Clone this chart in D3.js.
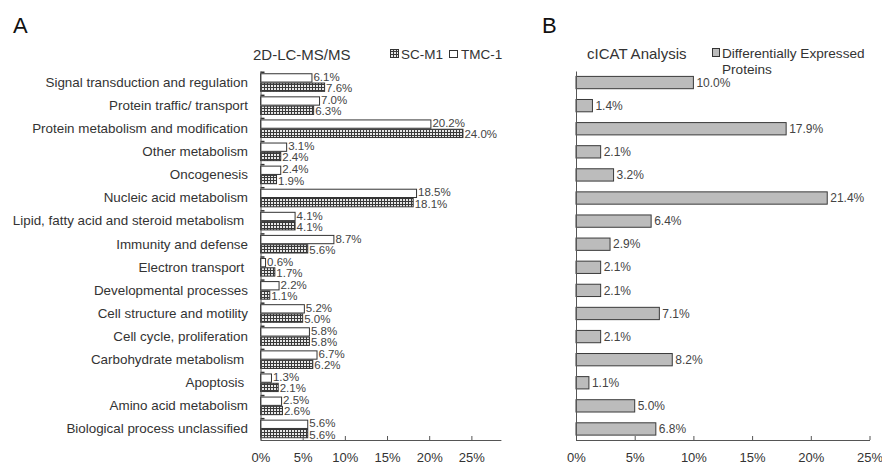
<!DOCTYPE html>
<html>
<head>
<meta charset="utf-8">
<script src="https://cdn.jsdelivr.net/npm/d3@7/dist/d3.min.js"></script>
<style>
  html, body { margin: 0; padding: 0; background: #fff; }
  svg { display: block; font-family: "Liberation Sans", Arial, sans-serif; }
  .cat text { white-space: pre; }
</style>
</head>
<body>
<svg id="chart" width="882" height="465"></svg>
<script>
// Functional categories, top to bottom
const categories = [
  "Signal transduction and regulation",
  "Protein traffic/ transport",
  "Protein metabolism and modification",
  "Other metabolism",
  "Oncogenesis",
  "Nucleic acid metabolism",
  "Lipid, fatty acid and steroid metabolism ",
  "Immunity and defense",
  "Electron transport ",
  "Developmental processes",
  "Cell structure and motility",
  "Cell cycle, proliferation",
  "Carbohydrate metabolism ",
  "Apoptosis ",
  "Amino acid metabolism",
  "Biological process unclassified"
];

// Panel A: 2D-LC-MS/MS (percent of identified proteins)
const tmc1 = [6.1, 7.0, 20.2, 3.1, 2.4, 18.5, 4.1, 8.7, 0.6, 2.2, 5.2, 5.8, 6.7, 1.3, 2.5, 5.6];
const scm1 = [7.6, 6.3, 24.0, 2.4, 1.9, 18.1, 4.1, 5.6, 1.7, 1.1, 5.0, 5.8, 6.2, 2.1, 2.6, 5.6];

// Panel B: cICAT analysis, differentially expressed proteins
const cicat = [10.0, 1.4, 17.9, 2.1, 3.2, 21.4, 6.4, 2.9, 2.1, 2.1, 7.1, 2.1, 8.2, 1.1, 5.0, 6.8];

const xTicks = [0, 5, 10, 15, 20, 25];

const svg = d3.select("#chart");
const ink = "#333";
const fmt = v => v.toFixed(1) + "%";

// crosshatch fill for SC-M1 bars
const defs = svg.append("defs");
const pat = defs.append("pattern")
  .attr("id", "grid").attr("patternUnits", "userSpaceOnUse")
  .attr("width", 3).attr("height", 3);
pat.append("rect").attr("width", 3).attr("height", 3).attr("fill", "#e8e8e8");
pat.append("rect").attr("width", 3).attr("height", 1).attr("fill", "#3a3a3a");
pat.append("rect").attr("width", 1).attr("height", 3).attr("fill", "#3a3a3a");

const y = d3.scaleBand().domain(categories).range([71, 440.5]);
const xA = d3.scaleLinear().domain([0, 28.5]).range([260.5, 500.9]);
const xB = d3.scaleLinear().domain([0, 25]).range([576, 869.5]);
const axisY = 440;

// panel letters and titles
svg.append("text").attr("x", 13).attr("y", 33).attr("font-size", 22).attr("fill", "#111").text("A");
svg.append("text").attr("x", 542).attr("y", 33).attr("font-size", 22).attr("fill", "#111").text("B");
svg.append("text").attr("x", 253).attr("y", 59.5).attr("font-size", 15).attr("fill", ink).text("2D-LC-MS/MS");
svg.append("text").attr("x", 587).attr("y", 59).attr("font-size", 15).attr("fill", ink).text("cICAT Analysis");

// legend A
svg.append("rect").attr("x", 390.5).attr("y", 49.5).attr("width", 8).attr("height", 8)
  .attr("fill", "url(#grid)").attr("stroke", ink);
svg.append("text").attr("x", 401).attr("y", 58.5).attr("font-size", 13.5).attr("fill", ink).text("SC-M1");
svg.append("rect").attr("x", 449.5).attr("y", 50.5).attr("width", 8).attr("height", 7)
  .attr("fill", "#fff").attr("stroke", ink);
svg.append("text").attr("x", 461).attr("y", 58.5).attr("font-size", 13.5).attr("fill", ink).text("TMC-1");

// legend B (two-line label)
svg.append("rect").attr("x", 712.5).attr("y", 48.5).attr("width", 7).attr("height", 8)
  .attr("fill", "#bcbcbc").attr("stroke", ink);
svg.append("text").attr("x", 722).attr("y", 58).attr("font-size", 13.6).attr("fill", ink).text("Differentially Expressed");
svg.append("text").attr("x", 722).attr("y", 73.5).attr("font-size", 13.6).attr("fill", ink).text("Proteins");

// ---- Panel A ----
const gA = svg.append("g");
const half = 8.3;
const rowsA = categories.map((c, i) => ({ c, tmc: tmc1[i], sc: scm1[i] }));

// short marker at the top of each category band
gA.selectAll("rect.mark").data(categories).join("rect")
  .attr("class", "mark")
  .attr("x", xA(0)).attr("y", d => y(d) + 0.5)
  .attr("width", 4).attr("height", 1.5).attr("fill", ink);

gA.selectAll("rect.tmc").data(rowsA).join("rect")
  .attr("class", "tmc")
  .attr("x", xA(0)).attr("y", d => y(d.c) + y.bandwidth() / 2 - half - 0.5)
  .attr("width", d => xA(d.tmc) - xA(0)).attr("height", half)
  .attr("fill", "#fff").attr("stroke", ink).attr("stroke-width", 1);

gA.selectAll("rect.sc").data(rowsA).join("rect")
  .attr("class", "sc")
  .attr("x", xA(0)).attr("y", d => y(d.c) + y.bandwidth() / 2 + 0.5)
  .attr("width", d => xA(d.sc) - xA(0)).attr("height", half)
  .attr("fill", "url(#grid)").attr("stroke", ink).attr("stroke-width", 1);

// value labels, one per bar, stacked tightly beside the pair
gA.selectAll("text.ltmc").data(rowsA).join("text")
  .attr("class", "ltmc")
  .attr("x", d => xA(d.tmc) + 1.5)
  .attr("y", d => y(d.c) + y.bandwidth() / 2 - 5.6)
  .attr("dy", "0.35em").attr("font-size", 11.5).attr("fill", "#444")
  .text(d => fmt(d.tmc));

gA.selectAll("text.lsc").data(rowsA).join("text")
  .attr("class", "lsc")
  .attr("x", d => xA(d.sc) + 1.5)
  .attr("y", d => y(d.c) + y.bandwidth() / 2 + 5.6)
  .attr("dy", "0.35em").attr("font-size", 11.5).attr("fill", "#444")
  .text(d => fmt(d.sc));

// category axis
const catAxis = gA.append("g").attr("class", "cat")
  .attr("transform", `translate(${xA(0)},0)`)
  .call(d3.axisLeft(y).tickSize(0).tickSizeOuter(0).tickPadding(12.5));
catAxis.select(".domain").attr("stroke", "#555");
catAxis.selectAll("text").attr("font-size", 13.4).attr("fill", ink)
  .attr("font-family", "'Liberation Sans', Arial, sans-serif");

const xAxisA = gA.append("g").attr("transform", `translate(0,${axisY})`)
  .call(d3.axisBottom(xA).tickValues(xTicks).tickFormat(d => d + "%")
    .tickSizeInner(-4).tickSizeOuter(0).tickPadding(13));
xAxisA.select(".domain").attr("stroke", "#555");
xAxisA.selectAll(".tick line").attr("stroke", "#555");
xAxisA.selectAll("text").attr("font-size", 13).attr("fill", ink)
  .attr("font-family", "'Liberation Sans', Arial, sans-serif");

// ---- Panel B ----
const gB = svg.append("g");
const rowsB = categories.map((c, i) => ({ c, v: cicat[i] }));
const bh = 12.3;

gB.selectAll("rect.bar").data(rowsB).join("rect")
  .attr("class", "bar")
  .attr("x", xB(0)).attr("y", d => y(d.c) + (y.bandwidth() - bh) / 2)
  .attr("width", d => xB(d.v) - xB(0)).attr("height", bh)
  .attr("fill", "#bcbcbc").attr("stroke", "#3a3a3a").attr("stroke-width", 1);

gB.selectAll("text.lb").data(rowsB).join("text")
  .attr("class", "lb")
  .attr("x", d => xB(d.v) + 3)
  .attr("y", d => y(d.c) + y.bandwidth() / 2)
  .attr("dy", "0.35em").attr("font-size", 12).attr("fill", "#444")
  .text(d => fmt(d.v));

const yAxisB = gB.append("g").attr("transform", `translate(${xB(0)},0)`)
  .call(d3.axisLeft(y).tickSize(0).tickSizeOuter(0).tickFormat(""));
yAxisB.select(".domain").attr("stroke", "#555");

const xAxisB = gB.append("g").attr("transform", `translate(0,${axisY})`)
  .call(d3.axisBottom(xB).tickValues(xTicks).tickFormat(d => d + "%")
    .tickSizeInner(-4).tickSizeOuter(0).tickPadding(13));
xAxisB.select(".domain").attr("stroke", "#555");
xAxisB.selectAll(".tick line").attr("stroke", "#555");
xAxisB.selectAll("text").attr("font-size", 13).attr("fill", ink)
  .attr("font-family", "'Liberation Sans', Arial, sans-serif");
</script>
</body>
</html>
